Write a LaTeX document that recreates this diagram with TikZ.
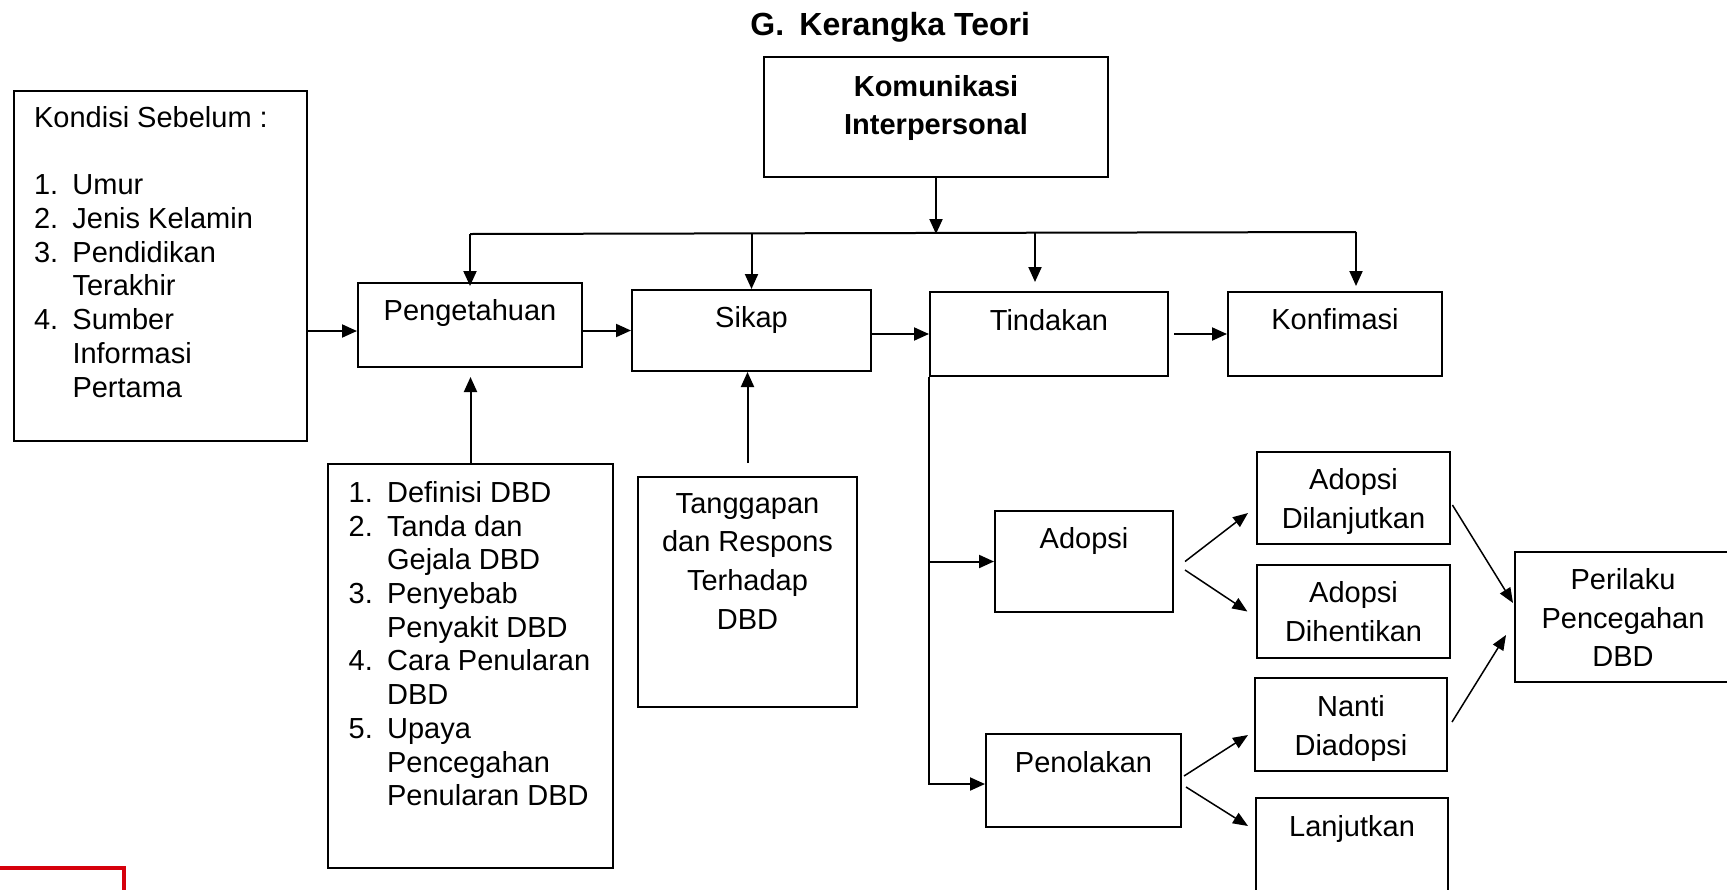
\documentclass[tikz,border=0pt]{standalone}
\usepackage{fontspec}
\setmainfont{Liberation Sans}
\usetikzlibrary{positioning,fit,arrows.meta}
\definecolor{logored}{RGB}{214,0,12}

\tikzset{
  box/.style={draw, line width=1pt, inner sep=0pt},
  txt/.style={inner sep=0pt, align=center, font=\fontsize{14.5}{19.3}\selectfont},
  lst/.style={inner sep=0pt, align=left, font=\fontsize{14.5}{16.85}\selectfont},
  arr/.style={line width=1pt, -{Triangle[length=7.5pt,width=6.5pt]}},
  thinarr/.style={line width=0.75pt, -{Triangle[length=7.5pt,width=6pt]}}
}
\newcommand{\itm}[1]{\makebox[19.2pt][l]{#1}}

\begin{document}
\begin{tikzpicture}[x=0.5pt, y=-0.5pt]
  \useasboundingbox (0,0) rectangle (1727,889);
  \clip (0,0) rectangle (1727,889);
  % judul
  \node[anchor=north west, inner sep=0pt, font=\bfseries\fontsize{16}{19}\selectfont] (title) at (750,12) {\makebox[24.5pt][l]{G.}Kerangka Teori};

  % kotak
  \node[box, fit={(764,57) (1108,177)}] (komu) {};
  \node[box, fit={(14,91) (307,441)}] (kond) {};
  \node[box, fit={(358,283) (582,367)}] (peng) {};
  \node[box, fit={(632,290) (871,371)}] (sikap) {};
  \node[box, fit={(930,292) (1168,376)}] (tind) {};
  \node[box, fit={(1228,292) (1442,376)}] (konf) {};
  \node[box, fit={(328,464) (613,868)}] (dbd) {};
  \node[box, fit={(638,477) (857,707)}] (tang) {};
  \node[box, fit={(995,511) (1173,612)}] (adop) {};
  \node[box, fit={(986,734) (1181,827)}] (tolak) {};
  \node[box, fit={(1257,452) (1450,544)}] (lanjut) {};
  \node[box, fit={(1257,565) (1450,658)}] (henti) {};
  \node[box, fit={(1255,678) (1447,771)}] (nanti) {};
  \node[box, fit={(1256,798) (1448,930)}] (lanj) {};
  \node[box, fit={(1515,552) (1731,682)}] (peril) {};

  % teks
  \node[txt, font=\bfseries\fontsize{14.5}{19}\selectfont, below=9.5pt of komu.north] (komuT) {Komunikasi\\Interpersonal};
  \node[lst, below right=8pt and 10.35pt of kond.north west] (kondT) {Kondisi Sebelum :\\[16.85pt]
    \itm{1.}Umur\\ \itm{2.}Jenis Kelamin\\ \itm{3.}Pendidikan\\ \itm{}Terakhir\\
    \itm{4.}Sumber\\ \itm{}Informasi\\ \itm{}Pertama};
  \node[txt, below=8.5pt of peng.north] (pengT) {Pengetahuan};
  \node[txt, below=8.5pt of sikap.north] (sikapT) {Sikap};
  \node[txt, below=9pt of tind.north] (tindT) {Tindakan};
  \node[txt, below=8.5pt of konf.north] (konfT) {Konfimasi};
  \node[lst, below right=9pt and 10.65pt of dbd.north west] (dbdT) {\itm{1.}Definisi DBD\\
    \itm{2.}Tanda dan\\ \itm{}Gejala DBD\\ \itm{3.}Penyebab\\ \itm{}Penyakit DBD\\
    \itm{4.}Cara Penularan\\ \itm{}DBD\\ \itm{5.}Upaya\\ \itm{}Pencegahan\\ \itm{}Penularan DBD};
  \node[txt, below=8.5pt of tang.north] (tangT) {Tanggapan\\dan Respons\\Terhadap\\DBD};
  \node[txt, below=8.5pt of adop.north] (adopT) {Adopsi};
  \node[txt, below=9pt of tolak.north] (tolakT) {Penolakan};
  \node[txt, below=8.5pt of lanjut.north] (lanjutT) {Adopsi\\Dilanjutkan};
  \node[txt, below=8.5pt of henti.north] (hentiT) {Adopsi\\Dihentikan};
  \node[txt, below=9pt of nanti.north] (nantiT) {Nanti\\Diadopsi};
  \node[txt, below=9pt of lanj.north] (lanjT) {Lanjutkan};
  \node[txt, below=8.5pt of peril.north] (perilT) {Perilaku\\Pencegahan\\DBD};

  % garis bus
  \coordinate (busL) at (470,234);
  \coordinate (busR) at (1356,232);
  \coordinate (dropT) at (1035,232);
  \draw[line width=1pt] (busL) -- (busR);
  \draw[arr] (komu.south) -- (komu.south |- busL);
  \draw[arr] (peng.north |- busL) -- ([yshift=-2pt]peng.north);
  \draw[arr] (sikap.north |- busL) -- (sikap.north);
  \draw[arr, shorten >=4.5pt] (dropT) -- (dropT |- tind.north);
  \draw[arr, shorten >=2.5pt] (busR) -- (busR |- konf.north);

  % panah mendatar
  \draw[arr] ([yshift=-3pt]peng.west -| kond.east) -- ([yshift=-3pt]peng.west);
  \draw[arr] (peng.east |- sikap.west) -- (sikap.west);
  \draw[arr] (sikap.east |- tind.west) -- (tind.west);
  \draw[arr] ([xshift=2.5pt]tind.east) -- (konf.west);

  % panah ke atas
  \draw[arr, shorten >=4.5pt] (dbd.north) -- (dbd.north |- peng.south);
  \draw[arr] ([yshift=6.5pt]tang.north) -- (tang.north |- sikap.south);

  % cabang tindakan
  \draw[arr] (tind.south west) |- ([yshift=-1.75pt]tolak.west);
  \draw[arr] (tind.south west |- adop.west) -- (adop.west);
  \draw[thinarr] ([xshift=5.5pt]adop.east) -- ([xshift=-4pt, yshift=-7.5pt]lanjut.west);
  \draw[thinarr] ([xshift=5.5pt, yshift=-4.25pt]adop.east) -- ([xshift=-4.3pt]henti.west);
  \draw[thinarr] ([xshift=1pt, yshift=2.25pt]tolak.east) -- ([xshift=-3pt, yshift=-5.25pt]nanti.west);
  \draw[thinarr] ([xshift=2pt, yshift=-3.25pt]tolak.east) -- ([xshift=-3.5pt, yshift=-14.5pt]lanj.north west);
  \draw[thinarr] ([xshift=0.7pt, yshift=-3.5pt]lanjut.east) -- ([xshift=-0.5pt, yshift=7pt]peril.west);
  \draw[thinarr] ([xshift=2pt, yshift=1.25pt]nanti.east) -- ([xshift=-4pt, yshift=-9pt]peril.west);

  % sisa logo
  \draw[logored, line width=2pt] (-20,868) rectangle (124,940);
\end{tikzpicture}
\end{document}
